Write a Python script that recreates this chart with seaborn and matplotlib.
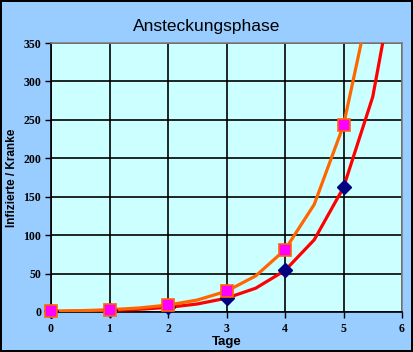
import numpy as np
import pandas as pd
import seaborn as sns
from matplotlib import pyplot as plt

sns.set_theme(style='white')
plt.rcParams['font.family'] = ['Liberation Sans', 'DejaVu Sans']

# curve points (every half day)
t_curve = [0, 0.5, 1, 1.5, 2, 2.5, 3, 3.5, 4, 4.5, 5, 5.5, 6]
ansteckung_curve = [1, 1.7, 3, 5.2, 9, 15.6, 27, 47, 81, 140, 243, 420, 730]
kranke_curve = [0.7, 1.2, 2, 3.5, 6, 10.4, 18, 31, 54, 94, 162, 280, 486]

# marker points (whole days)
tage = [0, 1, 2, 3, 4, 5]
infizierte = [1, 3, 9, 27, 81, 243]
kranke = [0.7, 2, 6, 18, 54, 162]

df_curve = pd.DataFrame({'t': t_curve, 'inf': ansteckung_curve, 'kr': kranke_curve})
df_pts = pd.DataFrame({'t': tage, 'inf': infizierte, 'kr': kranke})

fig = plt.figure(figsize=(4.13, 3.52), dpi=100, facecolor='#99CCFF',
                 edgecolor='black', linewidth=1.5)
ax = fig.add_axes([51/413, 1-312/352, 351/413, 269/352])
ax.set_facecolor('#CCFFFF')

sns.lineplot(data=df_curve, x='t', y='kr', ax=ax, color='#FF0000', linewidth=2.3, zorder=3)
sns.lineplot(data=df_curve, x='t', y='inf', ax=ax, color='#FF6600', linewidth=2.3, zorder=3)
ax.plot(df_pts['t'], df_pts['kr'], linestyle='none', marker='D', markersize=7.5,
        markerfacecolor='#000080', markeredgecolor='#000080', zorder=4, clip_on=False)
ax.plot(df_pts['t'], df_pts['inf'], linestyle='none', marker='s', markersize=8,
        markerfacecolor='#FF00FF', markeredgecolor='#FF6600', markeredgewidth=1.2,
        zorder=5, clip_on=False)

ax.set_xlim(0, 6)
ax.set_ylim(0, 350)
ax.set_xticks(range(0, 7))
ax.set_yticks(range(0, 351, 50))
ax.grid(True, color='black', linewidth=1.2)
ax.set_axisbelow(True)

for s in ['top', 'right']:
    ax.spines[s].set_color('#808080')
    ax.spines[s].set_linewidth(1.2)
for s in ['left', 'bottom']:
    ax.spines[s].set_color('black')
    ax.spines[s].set_linewidth(1.2)

ax.tick_params(axis='both', direction='out', length=4, width=1, color='black',
               labelsize=8.5, bottom=True, left=True)
ax.tick_params(axis='x', pad=4)
ax.tick_params(axis='y', pad=3)
for lab in ax.get_xticklabels() + ax.get_yticklabels():
    lab.set_fontfamily('Liberation Serif')
    lab.set_fontweight('bold')
    lab.set_color('black')

ax.set_xlabel('Tage', fontsize=9.5, fontweight='bold', labelpad=0.5, color='black')
ax.set_ylabel('Infizierte / Kranke', fontsize=8.5, fontweight='bold', labelpad=4, color='black')
fig.text(0.5, 0.925, 'Ansteckungsphase', ha='center', va='center', fontsize=12.5, color='black')

plt.savefig('out.png', dpi=100, facecolor=fig.get_facecolor(), edgecolor='black')
